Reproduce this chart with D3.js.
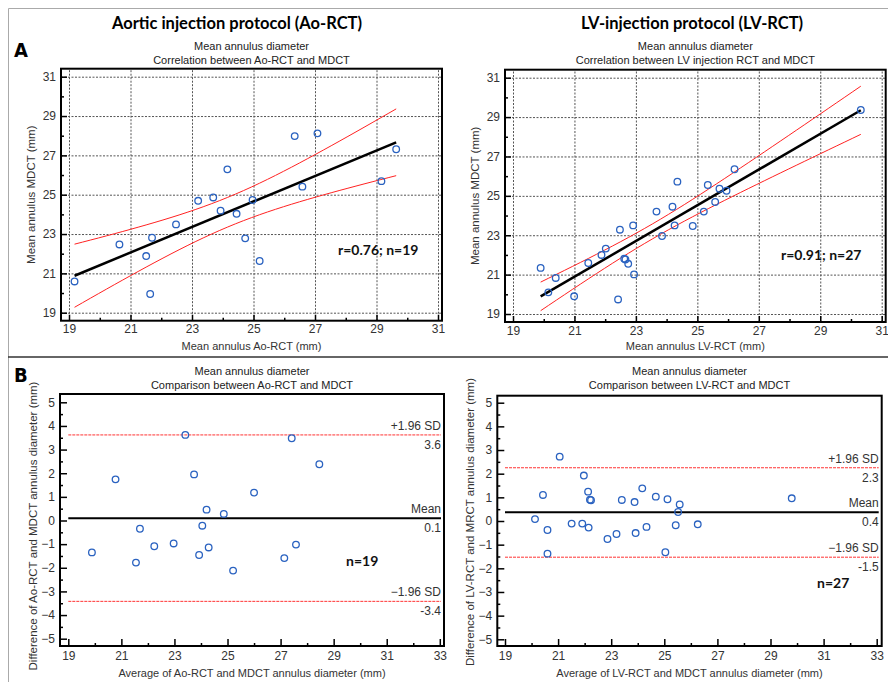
<!DOCTYPE html>
<html>
<head>
<meta charset="utf-8">
<style>
  body { margin: 0; background: #fff; }
  svg { display: block; font-family: "Liberation Sans", Arial, sans-serif; }
  .tick text { fill: #333; font-size: 12px; }
  .grid line { stroke: #555; stroke-dasharray: 2,1.5; stroke-width: 1; }
  .grid .domain, .ax .domain { display: none; }
  .ax line { stroke: #000; stroke-width: 1.5; }
  .sub { font-size: 11px; fill: #222; text-anchor: middle; }
  .axlab { font-size: 11px; fill: #333; text-anchor: middle; }
  .ylab { font-size: 11.5px; }
  .head { font-family: Lato, "Open Sans", sans-serif; font-weight: bold; fill: #000; text-anchor: middle; }
  .stat { font-family: Lato, "Open Sans", sans-serif; font-weight: bold; font-size: 14px; fill: #111; }
  .panel { font-family: "DejaVu Sans", sans-serif; font-stretch: condensed; font-weight: bold; font-size: 20px; }
  .lim { font-size: 12px; fill: #333; text-anchor: end; }
</style>
<script src="https://cdn.jsdelivr.net/npm/d3@7"></script>
</head>
<body>
<script>
// Ao-RCT vs MDCT (mm)
var aoRct  = [19.18, 20.64, 21.51, 21.64, 21.70, 22.48, 23.20, 23.69, 23.93, 24.15, 24.45, 24.73, 24.97, 25.20, 26.34, 26.59, 27.08, 29.16, 29.64];
var aoMdct = [20.59, 22.47, 21.88, 19.95, 22.81, 23.49, 24.69, 24.86, 24.19, 26.29, 24.03, 22.78, 24.73, 21.63, 27.98, 25.41, 28.12, 25.69, 27.31];

// LV-RCT vs MDCT (mm)
var lvRct  = [19.90, 20.15, 20.39, 20.99, 21.45, 21.88, 22.02, 22.42, 22.48, 22.62, 22.66, 22.75, 22.91, 22.94, 23.67, 23.85, 24.19, 24.26, 24.35, 24.85, 25.21, 25.34, 25.58, 25.72, 25.95, 26.21, 30.32];
var lvMdct = [21.34, 20.10, 20.83, 19.90, 21.59, 22.00, 22.32, 19.74, 23.28, 21.81, 21.77, 21.55, 23.50, 21.01, 24.20, 22.96, 24.45, 23.50, 25.72, 23.47, 24.20, 25.55, 24.69, 25.36, 25.26, 26.35, 29.36];

// Bland-Altman, Ao-RCT
var baAoAvg  = [19.89, 20.78, 21.55, 21.70, 22.24, 22.97, 23.41, 23.74, 23.93, 24.05, 24.21, 24.29, 24.86, 25.21, 26.00, 27.14, 27.42, 27.58, 28.46];
var baAoDiff = [-1.35, 1.74, -1.78, -0.35, -1.09, -0.97, 3.62, 1.95, -1.46, -0.22, 0.46, -1.14, 0.28, -2.12, 1.18, -1.59, 3.48, -1.02, 2.38];
var baAoLim  = [3.62, 0.09, -3.42];

// Bland-Altman, LV-RCT
var baLvAvg  = [20.13, 20.43, 20.60, 20.60, 21.06, 21.51, 21.91, 21.97, 22.13, 22.15, 22.20, 22.24, 22.86, 23.20, 23.40, 23.88, 23.92, 24.17, 24.33, 24.68, 25.04, 25.12, 25.43, 25.52, 25.58, 26.26, 29.80];
var baLvDiff = [0.08, 1.10, -0.38, -1.38, 2.72, -0.11, -0.11, 1.92, 1.24, -0.28, 0.90, 0.88, -0.76, -0.55, 0.89, 0.80, -0.51, 1.38, -0.25, 1.03, -1.32, 0.92, -0.18, 0.38, 0.70, -0.14, 0.96];
var baLvLim  = [2.25, 0.37, -1.53];

var limLabels = ["+1.96 SD", "Mean", "\u22121.96 SD"];
var corrTicks = [19, 21, 23, 25, 27, 29, 31];
var corrMinor = [20, 22, 24, 26, 28, 30];
var baXTicks = [19, 21, 23, 25, 27, 29, 31, 33];
var baXMinor = [20, 22, 24, 26, 28, 30, 32];
var baYTicks = [-5, -4, -3, -2, -1, 0, 1, 2, 3, 4, 5];
var baYMinor = [-4.5, -3.5, -2.5, -1.5, -0.5, 0.5, 1.5, 2.5, 3.5, 4.5];

var svg = d3.select("body").append("svg").attr("width", 888).attr("height", 682);

// figure border and divider
svg.append("path").attr("d", "M8.5,682V8.5H888").attr("fill", "none").attr("stroke", "#aaa");
svg.append("line").attr("x1", 8).attr("x2", 888).attr("y1", 357).attr("y2", 357).attr("stroke", "#333").attr("stroke-width", 1.5);

svg.append("text").attr("class", "panel").attr("x", 14).attr("y", 57).text("A");
svg.append("text").attr("class", "panel").attr("x", 14).attr("y", 382).text("B");

svg.append("text").attr("class", "head").attr("x", 237).attr("y", 29).style("font-size", "16.5px").text("Aortic injection protocol (Ao-RCT)");
svg.append("text").attr("class", "head").attr("x", 692).attr("y", 29).style("font-size", "16.5px").text("LV-injection protocol (LV-RCT)");

function regression(xs, ys, t) {
  var n = xs.length, mx = d3.mean(xs), my = d3.mean(ys);
  var sxx = d3.sum(xs, function (v) { return (v - mx) * (v - mx); });
  var sxy = d3.sum(xs, function (v, i) { return (v - mx) * (ys[i] - my); });
  var b = sxy / sxx, a = my - b * mx;
  var s = Math.sqrt(d3.sum(xs, function (v, i) { var r = ys[i] - (a + b * v); return r * r; }) / (n - 2));
  return {
    f: function (v) { return a + b * v; },
    hw: function (v) { return t * s * Math.sqrt(1 / n + (v - mx) * (v - mx) / sxx); }
  };
}

function corrPanel(c) {
  var x = d3.scaleLinear().domain([19, 31]).range(c.xr);
  var y = d3.scaleLinear().domain([19, 31]).range(c.yr);
  var L = x(19) - 8, R = x(31) + 4, T = y(31) - 8, B = y(19) + 8;
  var g = svg.append("g");

  g.append("g").attr("class", "grid").attr("transform", "translate(0," + B + ")")
    .call(d3.axisBottom(x).tickValues(corrTicks).tickSize(-(B - T)).tickFormat(""));
  g.append("g").attr("class", "grid").attr("transform", "translate(" + L + ",0)")
    .call(d3.axisLeft(y).tickValues(corrTicks).tickSize(-(R - L)).tickFormat(""));

  g.append("g").attr("class", "ax").attr("transform", "translate(0," + B + ")")
    .call(d3.axisBottom(x).tickValues(corrTicks).tickSize(-6).tickPadding(4));
  g.append("g").attr("class", "ax").attr("transform", "translate(0," + B + ")")
    .call(d3.axisBottom(x).tickValues(corrMinor).tickSize(-3).tickFormat(""));
  g.append("g").attr("class", "ax").attr("transform", "translate(" + L + ",0)")
    .call(d3.axisLeft(y).tickValues(corrTicks).tickSize(-6).tickPadding(5));
  g.append("g").attr("class", "ax").attr("transform", "translate(" + L + ",0)")
    .call(d3.axisLeft(y).tickValues(corrMinor).tickSize(-3).tickFormat(""));

  g.append("rect").attr("x", L).attr("y", T).attr("width", R - L).attr("height", B - T)
    .attr("fill", "none").attr("stroke", "#000").attr("stroke-width", 2);

  var reg = regression(c.xs, c.ys, c.t);
  var ext = d3.extent(c.xs);
  var xsLine = d3.range(ext[0], ext[1] + 0.001, (ext[1] - ext[0]) / 40);
  var line = d3.line().x(function (d) { return x(d[0]); }).y(function (d) { return y(d[1]); });
  g.append("path").attr("d", line(xsLine.map(function (v) { return [v, reg.f(v) + reg.hw(v)]; })))
    .attr("fill", "none").attr("stroke", "#f22").attr("stroke-width", 1);
  g.append("path").attr("d", line(xsLine.map(function (v) { return [v, reg.f(v) - reg.hw(v)]; })))
    .attr("fill", "none").attr("stroke", "#f22").attr("stroke-width", 1);
  g.append("path").attr("d", line([[ext[0], reg.f(ext[0])], [ext[1], reg.f(ext[1])]]))
    .attr("fill", "none").attr("stroke", "#000").attr("stroke-width", 2.5);

  g.selectAll("circle.pt").data(c.xs).enter().append("circle").attr("class", "pt")
    .attr("cx", function (d) { return x(d); })
    .attr("cy", function (d, i) { return y(c.ys[i]); })
    .attr("r", 3.3).attr("fill", "none").attr("stroke", "#2a62c0").attr("stroke-width", 1.3);

  g.append("text").attr("class", "stat").attr("x", c.statPos[0]).attr("y", c.statPos[1]).text(c.stat);

  var cx = (L + R) / 2;
  g.append("text").attr("class", "sub").attr("x", cx).attr("y", 50).text("Mean annulus diameter");
  g.append("text").attr("class", "sub").attr("x", cx).attr("y", 64).text(c.sub);
  g.append("text").attr("class", "axlab").attr("x", cx).attr("y", 350).text(c.xlab);
  g.append("text").attr("class", "axlab ylab").attr("transform", "translate(" + c.ylabX + "," + (T + B) / 2 + ") rotate(-90)").text("Mean annulus MDCT (mm)");
}

function baPanel(c) {
  var x = d3.scaleLinear().domain([19, 33]).range(c.xr);
  var y = d3.scaleLinear().domain([-5, 5]).range(c.yr);
  var L = c.frame[0], R = c.frame[1], T = c.frame[2], B = c.frame[3];
  var g = svg.append("g");

  g.append("g").attr("class", "ax").attr("transform", "translate(0," + B + ")")
    .call(d3.axisBottom(x).tickValues(baXTicks).tickSize(-7).tickPadding(5));
  g.append("g").attr("class", "ax").attr("transform", "translate(0," + B + ")")
    .call(d3.axisBottom(x).tickValues(baXMinor).tickSize(-3).tickFormat(""));
  g.append("g").attr("class", "ax").attr("transform", "translate(" + L + ",0)")
    .call(d3.axisLeft(y).tickValues(baYTicks).tickSize(-7).tickPadding(5));
  g.append("g").attr("class", "ax").attr("transform", "translate(" + L + ",0)")
    .call(d3.axisLeft(y).tickValues(baYMinor).tickSize(-3).tickFormat(""));

  g.append("rect").attr("x", L).attr("y", T).attr("width", R - L).attr("height", B - T)
    .attr("fill", "none").attr("stroke", "#000").attr("stroke-width", 2);

  var x0 = x(19), x1 = R - 3;
  c.lim.forEach(function (v, i) {
    var mid = i === 1;
    g.append("line").attr("x1", x0).attr("x2", x1).attr("y1", y(v)).attr("y2", y(v))
      .attr("stroke", mid ? "#000" : "#f33").attr("stroke-width", mid ? 2 : 1)
      .attr("stroke-dasharray", mid ? null : "3,1");
    g.append("text").attr("class", "lim").attr("x", x1).attr("y", y(v) - 5).text(limLabels[i]);
    g.append("text").attr("class", "lim").attr("x", x1).attr("y", y(v) + 14).text(v.toFixed(1));
  });

  g.selectAll("circle.pt").data(c.xs).enter().append("circle").attr("class", "pt")
    .attr("cx", function (d) { return x(d); })
    .attr("cy", function (d, i) { return y(c.ys[i]); })
    .attr("r", 3.3).attr("fill", "none").attr("stroke", "#2a62c0").attr("stroke-width", 1.3);

  g.append("text").attr("class", "stat").attr("x", c.statPos[0]).attr("y", c.statPos[1]).text(c.stat);

  var cx = (L + R) / 2;
  g.append("text").attr("class", "sub").attr("x", cx).attr("y", 375).text("Mean annulus diameter");
  g.append("text").attr("class", "sub").attr("x", cx).attr("y", 389).text(c.sub);
  g.append("text").attr("class", "axlab").attr("x", cx).attr("y", 677).text(c.xlab);
  g.append("text").attr("class", "axlab ylab").attr("transform", "translate(" + c.ylabX + "," + c.ylabY + ") rotate(-90)").text(c.ylab);
}

corrPanel({
  xs: aoRct, ys: aoMdct, t: 2.110,
  xr: [69, 438], yr: [312.7, 76.7],
  stat: "r=0.76; n=19", statPos: [338, 255],
  sub: "Correlation between Ao-RCT and MDCT",
  xlab: "Mean annulus Ao-RCT (mm)", ylabX: 35
});
corrPanel({
  xs: lvRct, ys: lvMdct, t: 2.060,
  xr: [513, 881.7], yr: [314, 77.7],
  stat: "r=0.91; n=27", statPos: [781, 260],
  sub: "Correlation between LV injection RCT and MDCT",
  xlab: "Mean annulus LV-RCT (mm)", ylabX: 479
});
baPanel({
  xs: baAoAvg, ys: baAoDiff, lim: baAoLim,
  xr: [68.3, 439.8], yr: [638.7, 402.3], frame: [60, 444, 394, 646],
  stat: "n=19", statPos: [346, 566],
  sub: "Comparison between Ao-RCT and MDCT",
  xlab: "Average of Ao-RCT and MDCT annulus diameter  (mm)",
  ylab: "Difference of Ao-RCT and MDCT annulus diameter (mm)", ylabX: 37, ylabY: 526
});
baPanel({
  xs: baLvAvg, ys: baLvDiff, lim: baLvLim,
  xr: [505, 876.7], yr: [639.3, 402.7], frame: [497.3, 881.7, 395.7, 646],
  stat: "n=27", statPos: [817, 588],
  sub: "Comparison between LV-RCT and MDCT",
  xlab: "Average of LV-RCT and MDCT annulus diameter (mm)",
  ylab: "Difference of LV-RCT and MRCT annulus diameter (mm)", ylabX: 474, ylabY: 522
});
</script>
</body>
</html>
